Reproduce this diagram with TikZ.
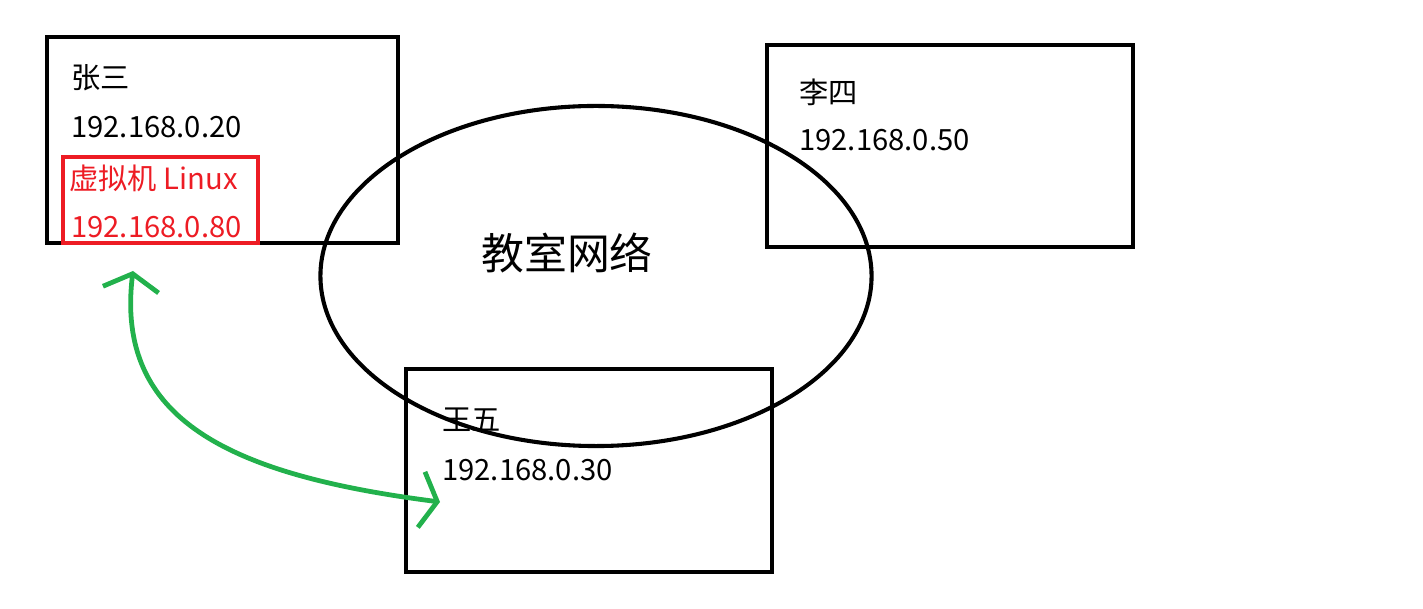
\documentclass[tikz,border=0pt]{standalone}
\usepackage{fontspec}
\setmainfont{Noto Sans CJK SC}
\usetikzlibrary{arrows.meta,shapes.geometric}

\definecolor{paintred}{RGB}{237,28,36}
\definecolor{paintgreen}{RGB}{34,177,76}

\begin{document}
\begin{tikzpicture}[
  x=0.025cm, y=-0.025cm,
  >={Straight Barb[length=4mm, width=14mm]},
  host/.style   = {draw, line width=2.9pt, anchor=north west, inner sep=0pt, outer sep=0pt},
  vmbox/.style  = {draw=paintred, line width=2.6pt, anchor=north west, inner sep=0pt, outer sep=0pt},
  net/.style    = {ellipse, draw, line width=2.9pt, inner sep=0pt},
  txt/.style    = {anchor=west, inner sep=0pt, font=\fontsize{20.8}{25}\selectfont},
  vmtxt/.style  = {txt, text=paintred},
  title/.style  = {inner sep=0pt, font=\fontsize{30.5}{36}\selectfont},
  link/.style   = {<->, paintgreen, line width=3.4pt, line cap=round},
]
\useasboundingbox (0,0) rectangle (1423,609);

%% ------------------------------------------------------------------ HOSTS
\node[host, minimum width=8.775cm, minimum height=5.15cm]  (zhangsan) at (47,37)   {};
\node[vmbox, minimum width=4.875cm, minimum height=2.15cm] (vm)       at (63,157)  {};
\node[host, minimum width=9.15cm, minimum height=5.05cm]   (lisi)     at (767,45)  {};
\node[host, minimum width=9.15cm, minimum height=5.075cm]  (wangwu)   at (406,369) {};

% labels inside the boxes
\node[txt]   (zsname) at (71,78)   {张三};
\node[txt]   (zsip)   at (71,127)  {192.168.0.20};
\node[vmtxt] (vmname) at (69,178)  {虚拟机 Linux};
\node[vmtxt] (vmip)   at (71,227)  {192.168.0.80};
\node[txt]   (lsname) at (799,92)  {李四};
\node[txt]   (lsip)   at (799,140) {192.168.0.50};
\node[txt]   (wwname) at (442,420) {王五};
\node[txt]   (wwip)   at (442,470) {192.168.0.30};

%% ------------------------------------------------------------------ NETWORK
\node[net, minimum width=13.775cm, minimum height=8.5cm] (lan) at (596,276) {};
\node[title] (lanlbl) at (567,253) {教室网络};

%% ------------------------------------------------------------------ BRIDGE
\coordinate (vmtip) at (133,271);
\coordinate (wwtip) at (440,502);
\draw[link] (vmtip) .. controls (115,420) and (230,475) .. (wwtip);

\end{tikzpicture}
\end{document}
